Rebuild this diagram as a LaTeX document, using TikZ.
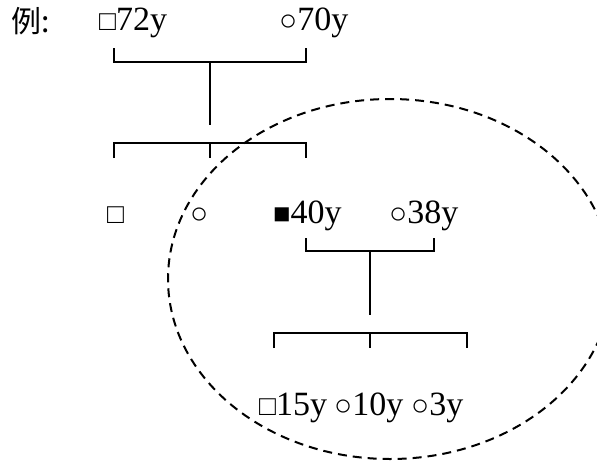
\documentclass[tikz,border=0pt]{standalone}
\usepackage{fontspec}
\setmainfont{Liberation Serif}
\newfontfamily\cjk{Noto Sans CJK SC}
\newcommand{\msq}{{\fontsize{28}{28}\selectfont □}}
\newcommand{\fsq}{{\fontsize{29}{29}\selectfont ■}}
\newcommand{\fci}{{\fontsize{30}{30}\selectfont ○}}
\begin{document}
\begin{tikzpicture}[x=1pt,y=-1pt,
  person/.style={anchor=base west,inner sep=0pt,font=\fontsize{34}{40}\selectfont},
  line/.style={line width=2.2pt}]
\useasboundingbox (0,0) rectangle (597,464);
\clip (0,0) rectangle (597,464);
\node[anchor=base west,inner sep=0pt,font=\cjk\fontsize{30}{36}\selectfont] (ex) at (11,32) {例:};
% grandparents
\node[person] (gf) at (99,30) {\msq72y};
\node[person] (gm) at (279,30) {\fci70y};
% children
\node[person] (sa) at (107,223) {\msq};
\node[person] (sb) at (190,223) {\fci};
\node[person] (fa) at (273,223) {\fsq40y};
\node[person] (mo) at (389,223) {\fci38y};
% grandchildren
\node[person] (ca) at (259,415) {\msq15y};
\node[person] (cb) at (334,415) {\fci10y};
\node[person] (cc) at (411,415) {\fci3y};
% first family
\coordinate (gfl) at (114,48); \coordinate (gml) at (306,48);
\coordinate (gs) at (210,62); \coordinate (ge) at (210,125);
\coordinate (sbar) at (210,143);
\coordinate (sat) at (114,158); \coordinate (sbt) at (210,158); \coordinate (fat) at (306,158);
\draw[line] (gfl) |- (gs) -| (gml);
\draw[line] (gs) -- (ge);
\draw[line] (sat) |- (sbar) -| (fat);
\draw[line] (sbar) -- (sbt);
% second family
\coordinate (fal) at (306,238); \coordinate (mol) at (434,238);
\coordinate (fs) at (370,251); \coordinate (fe) at (370,315);
\coordinate (cbar) at (370,333);
\coordinate (cat) at (274,348); \coordinate (cbt) at (370,348); \coordinate (cct) at (467,348);
\draw[line] (fal) |- (fs) -| (mol);
\draw[line] (fs) -- (fe);
\draw[line] (cat) |- (cbar) -| (cct);
\draw[line] (cbar) -- (cbt);
\draw[line width=2pt,dash pattern=on 9pt off 6pt] (390,279) ellipse [x radius=222, y radius=180];
\end{tikzpicture}
\end{document}
